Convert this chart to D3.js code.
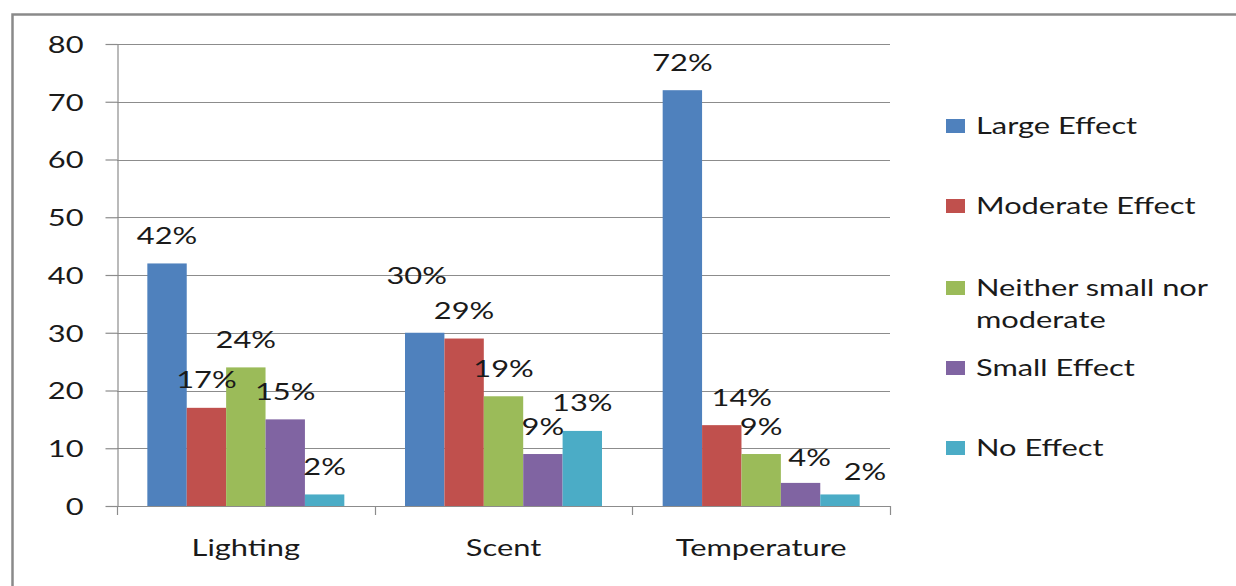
<!DOCTYPE html>
<html>
<head>
<meta charset="utf-8">
<script src="https://cdn.jsdelivr.net/npm/d3@7"></script>
<style>
  body { margin: 0; background: #fff; }
  svg { display: block; }
  text { font-family: Lato, "Open Sans", sans-serif; fill: #1a1a1a; }
</style>
</head>
<body>
<script>
// données du graphique
const categories = ["Lighting", "Scent", "Temperature"];
const series = ["Large Effect", "Moderate Effect", "Neither small nor moderate", "Small Effect", "No Effect"];
const largeEffect = [42, 30, 72];
const moderateEffect = [17, 29, 14];
const neitherEffect = [24, 19, 9];
const smallEffect = [15, 9, 4];
const noEffect = [2, 13, 2];
const yTicks = [0, 10, 20, 30, 40, 50, 60, 70, 80];
const colors = ["#4F81BD", "#C0504D", "#9BBB59", "#8064A2", "#4BACC6"];

const values = [largeEffect, moderateEffect, neitherEffect, smallEffect, noEffect];

let width = 1236, height = 586;
let fontSize = 23;
let stretch = 1.34;

let svg = d3.select("body")
    .append("svg")
    .attr("width", width)
    .attr("height", height);

// cadre
svg.append("rect")
    .attr("x", 12.5)
    .attr("y", 14.5)
    .attr("width", 1300)
    .attr("height", 700)
    .attr("fill", "none")
    .attr("stroke", "#8a8a8a")
    .attr("stroke-width", 2.5);

let x0 = d3.scaleBand()
    .domain(categories)
    .range([117, 890]);

let x1 = d3.scaleBand()
    .domain(series)
    .range([0, x0.bandwidth()])
    .paddingOuter(0.77);

let y = d3.scaleLinear()
    .domain([0, 80])
    .range([506, 44]);

// grille
svg.append("g")
    .selectAll("line")
    .data(yTicks.filter(d => d > 0))
    .enter()
    .append("line")
    .attr("x1", 117)
    .attr("x2", 890)
    .attr("y1", d => Math.round(y(d)) + 0.5)
    .attr("y2", d => Math.round(y(d)) + 0.5)
    .attr("stroke", "#8c8c8c")
    .attr("stroke-width", 1.2);

// axe Y
let yAxis = svg.append("g")
    .attr("transform", "translate(117.5,0)")
    .call(d3.axisLeft(y).tickValues(yTicks).tickSize(12).tickPadding(22).tickSizeOuter(0));
yAxis.select(".domain").attr("stroke", "#8c8c8c").attr("stroke-width", 1.2);
yAxis.selectAll(".tick line").attr("stroke", "#8c8c8c").attr("stroke-width", 1.2);
yAxis.selectAll(".tick text")
    .attr("font-size", fontSize)
    .attr("font-family", "Lato")
    .attr("fill", "#1a1a1a")
    .attr("dy", "0.36em");

// barres
let groups = svg.append("g")
    .selectAll("g")
    .data(categories)
    .enter()
    .append("g")
    .attr("transform", d => "translate(" + x0(d) + ",0)");

groups.selectAll("rect")
    .data((c, i) => series.map((s, j) => ({ s: s, v: values[j][i], color: colors[j] })))
    .enter()
    .append("rect")
    .attr("x", d => x1(d.s))
    .attr("y", d => y(d.v))
    .attr("width", x1.bandwidth())
    .attr("height", d => y(0) - y(d.v))
    .attr("fill", d => d.color);

// décalages d'étiquettes pour éviter les chevauchements (comme dans l'original)
function nudge(c, s) {
    if (c == "Scent" && s == "Large Effect") return { dx: -8, dy: -29 };
    if (c == "Temperature" && s == "Moderate Effect") return { dx: 20, dy: 0 };
    if (c == "Temperature" && s == "Small Effect") return { dx: 9, dy: 2.5 };
    if (c == "Temperature" && s == "No Effect") return { dx: 25, dy: 5 };
    return { dx: 0, dy: 0 };
}

groups.selectAll("text.lbl")
    .data((c, i) => series.map((s, j) => ({ c: c, s: s, v: values[j][i] })))
    .enter()
    .append("text")
    .attr("class", "lbl")
    .attr("x", d => x1(d.s) + x1.bandwidth() / 2 + nudge(d.c, d.s).dx)
    .attr("y", d => y(d.v) - 19.5 + nudge(d.c, d.s).dy)
    .attr("text-anchor", "middle")
    .attr("font-size", fontSize)
    .text(d => d.v + "%");

// axe X
let xAxis = svg.append("g");
xAxis.append("line")
    .attr("x1", 117)
    .attr("x2", 890)
    .attr("y1", 506.5)
    .attr("y2", 506.5)
    .attr("stroke", "#8c8c8c")
    .attr("stroke-width", 1.2);

let bounds = categories.map(c => x0(c)).concat([x0(categories[categories.length - 1]) + x0.bandwidth()]);
xAxis.selectAll("line.tk")
    .data(bounds)
    .enter()
    .append("line")
    .attr("class", "tk")
    .attr("x1", d => Math.round(d) + 0.5)
    .attr("x2", d => Math.round(d) + 0.5)
    .attr("y1", 506)
    .attr("y2", 515)
    .attr("stroke", "#8c8c8c")
    .attr("stroke-width", 1.2);

xAxis.selectAll("text")
    .data(categories)
    .enter()
    .append("text")
    .attr("x", d => x0(d) + x0.bandwidth() / 2)
    .attr("y", 556)
    .attr("text-anchor", "middle")
    .attr("font-size", fontSize)
    .text(d => d);

// légende
let legendY = [126, 206, 288, 368, 448];
let legend = svg.append("g")
    .selectAll("g")
    .data(series)
    .enter()
    .append("g")
    .attr("transform", (d, i) => "translate(946," + legendY[i] + ")");

legend.append("rect")
    .attr("x", 0)
    .attr("y", -7)
    .attr("width", 19)
    .attr("height", 14)
    .attr("fill", (d, i) => colors[i]);

legend.append("text")
    .attr("x", 30)
    .attr("y", 8)
    .attr("font-size", fontSize)
    .each(function (d) {
        let t = d3.select(this);
        if (d == "Neither small nor moderate") {
            t.append("tspan").attr("x", 30).attr("dy", 0).text("Neither small nor");
            t.append("tspan").attr("x", 30).attr("dy", 32).text("moderate");
        } else {
            t.text(d);
        }
    });

// étirement horizontal du texte (comme l'original)
svg.selectAll("text").each(function () {
    let el = this;
    let spans = d3.select(el).selectAll("tspan");
    if (spans.size() > 0) {
        spans.each(function () {
            let w = this.getComputedTextLength();
            d3.select(this).attr("textLength", w * stretch).attr("lengthAdjust", "spacingAndGlyphs");
        });
    } else {
        let w = el.getComputedTextLength();
        d3.select(el).attr("textLength", w * stretch).attr("lengthAdjust", "spacingAndGlyphs");
    }
});
</script>
</body>
</html>
